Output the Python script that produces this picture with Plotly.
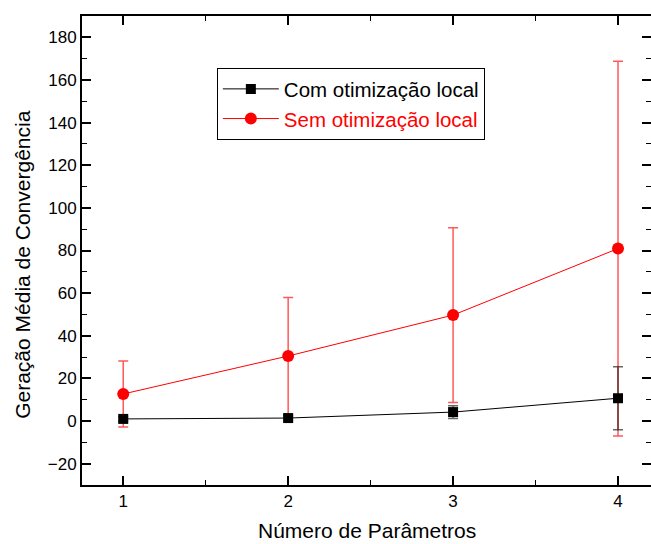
import plotly.graph_objects as go

params = [1, 2, 3, 4]

com_mean = [1.0, 1.4, 4.2, 10.7]
com_err = [1.0, 1.0, 3.0, 14.8]

sem_mean = [12.7, 30.5, 49.7, 80.9]
sem_err = [15.5, 27.5, 41.0, 87.9]

FONT = 'Arial, "Liberation Sans", sans-serif'

fig = go.Figure()

fig.add_trace(go.Scatter(
    x=params, y=sem_mean,
    name='<span style="color:#ff0000">Sem otimização local</span>',
    mode='lines+markers',
    line=dict(color='#ff0000', width=1),
    marker=dict(symbol='circle', size=12, color='#ff0000'),
    error_y=dict(type='data', array=sem_err, visible=True,
                 color='rgba(255,0,0,0.65)', thickness=1.5, width=5),
))

fig.add_trace(go.Scatter(
    x=params, y=com_mean,
    name='Com otimização local',
    mode='lines+markers',
    line=dict(color='black', width=1),
    marker=dict(symbol='square', size=10, color='black'),
    error_y=dict(type='data', array=com_err, visible=True,
                 color='rgba(0,0,0,0.6)', thickness=1.5, width=5),
))

axis_common = dict(
    showline=True, linecolor='black', linewidth=2, mirror='ticks',
    ticks='inside', ticklen=9, tickwidth=2, tickcolor='black',
    showgrid=False, zeroline=False, automargin=False,
    tickfont=dict(family=FONT, size=17, color='black'),
)

fig.update_xaxes(
    range=[0.75, 4.2], tickvals=params,
    minor=dict(ticks='inside', ticklen=5, tickwidth=1, tickcolor='black', dtick=0.5),
    **axis_common,
)
fig.update_yaxes(
    range=[-30, 190],
    tickvals=list(range(-20, 181, 20)),
    minor=dict(ticks='inside', ticklen=5, tickwidth=1, tickcolor='black', dtick=10, tick0=0),
    **axis_common,
)

# axis titles as annotations so they sit where the original puts them
fig.add_annotation(
    text='Número de Parâmetros', xref='paper', yref='paper',
    x=0.5, y=-0.098, xanchor='center', yanchor='middle', showarrow=False,
    font=dict(family=FONT, size=21, color='black'),
)
fig.add_annotation(
    text='Geração Média de Convergência', xref='paper', yref='paper',
    x=-0.105, y=0.47, xanchor='center', yanchor='middle', textangle=-90,
    showarrow=False, font=dict(family=FONT, size=21, color='black'),
)

fig.update_layout(
    width=651, height=544,
    margin=dict(l=82, r=0, t=16, b=59),
    plot_bgcolor='white', paper_bgcolor='white',
    font=dict(family=FONT, color='black'),
    showlegend=True,
    legend=dict(
        x=0.237, y=0.889, xanchor='left', yanchor='top',
        bgcolor='white', bordercolor='black', borderwidth=1,
        font=dict(family=FONT, size=20.5, color='black'),
        traceorder='reversed', itemwidth=56,
    ),
)

fig.write_html("out.html", config={'displayModeBar': False},
               post_script="document.body.style.margin='0';")
